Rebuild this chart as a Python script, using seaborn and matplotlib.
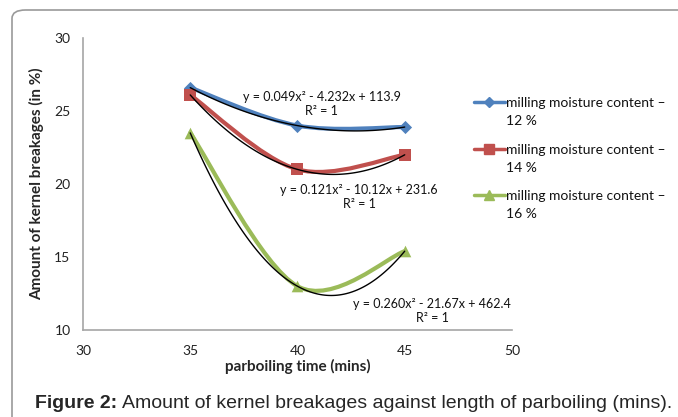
import numpy as np
import matplotlib
matplotlib.use("Agg")
import matplotlib.pyplot as plt
import seaborn as sns
from matplotlib.path import Path
from matplotlib.patches import PathPatch, FancyBboxPatch
from matplotlib.lines import Line2D

# data
time_mins = [35, 40, 45]
moist_12 = [26.6, 24.0, 23.9]
moist_14 = [26.1, 21.0, 22.0]
moist_16 = [23.5, 13.0, 15.4]
series_names = ["milling moisture content \u2013", "milling moisture content \u2013",
                "milling moisture content \u2013"]
series_pct = ["12 %", "14 %", "16 %"]
equations = ["y = 0.049x\u00b2 - 4.232x + 113.9\nR\u00b2 = 1",
             "y = 0.121x\u00b2 - 10.12x + 231.6\nR\u00b2 = 1",
             "y = 0.260x\u00b2 - 21.67x + 462.4\nR\u00b2 = 1"]

colors = ["#4F81BD", "#C0504D", "#9BBB59"]
markers = ["D", "s", "^"]
msizes = [45, 80, 70]

sns.set_style("white")
plt.rcParams["font.family"] = ["Lato", "DejaVu Sans"]


def smooth_path(xs, ys):
    # excel-like smoothed line: cubic bezier through the points
    pts = np.column_stack([xs, ys]).astype(float)
    n = len(pts)
    verts = [pts[0]]
    codes = [Path.MOVETO]
    for i in range(n - 1):
        p_prev = pts[max(i - 1, 0)]
        p0 = pts[i]
        p1 = pts[i + 1]
        p_next = pts[min(i + 2, n - 1)]
        c1 = p0 + (p1 - p_prev) / 6.0
        c2 = p1 - (p_next - p0) / 6.0
        verts += [c1, c2, p1]
        codes += [Path.CURVE4] * 3
    return Path(verts, codes)


fig = plt.figure(figsize=(6.78, 4.17), dpi=100)
ax = fig.add_axes([0.1224, 0.2086, 0.6327, 0.7003])

all_series = [moist_12, moist_14, moist_16]
for vals, c, m, s in zip(all_series, colors, markers, msizes):
    ax.add_patch(PathPatch(smooth_path(time_mins, vals), facecolor="none",
                           edgecolor=c, lw=3.0, zorder=2, capstyle="round"))
    sns.scatterplot(x=time_mins, y=vals, marker=m, s=s, color=c,
                    edgecolor=c, linewidth=0, ax=ax, zorder=3, legend=False)
    sns.regplot(x=np.array(time_mins), y=np.array(vals), order=2, ci=None,
                scatter=False, ax=ax, truncate=True,
                line_kws=dict(color="black", lw=1.0, zorder=4))

ax.set_xlim(30, 50)
ax.set_ylim(10, 30)
ax.set_xticks([30, 35, 40, 45, 50])
ax.set_yticks([10, 15, 20, 25, 30])
for side in ["top", "right"]:
    ax.spines[side].set_visible(False)
for side in ["left", "bottom"]:
    ax.spines[side].set_color("#A6A6A6")
    ax.spines[side].set_linewidth(1.2)
ax.tick_params(axis="both", direction="out", length=4, width=1.0,
               color="#A6A6A6", labelsize=10, labelcolor="#222222", pad=7)
ax.tick_params(axis="y", pad=5)
ax.set_xlabel("parboiling time (mins)", fontsize=11, fontweight="bold",
              labelpad=1)
ax.set_ylabel("Amount of kernel breakages (in %)", fontsize=11,
              fontweight="bold", labelpad=7)

# equation labels
eq_pos = [(41.14, 25.45), (42.87, 19.1), (46.27, 11.3)]
for txt, (ex, ey) in zip(equations, eq_pos):
    ax.text(ex, ey, txt, ha="center", va="center", fontsize=9,
            linespacing=1.2, color="#111111", zorder=5)

handles = [Line2D([0], [0], color=c, lw=2.5, marker=m, markersize=ms)
           for c, m, ms in zip(colors, markers, [5, 7, 7])]
leg = fig.legend(handles, series_names, loc="upper left",
                 bbox_to_anchor=(0.691, 0.781), frameon=False, fontsize=10,
                 handlelength=2.2, handletextpad=0.1, labelspacing=2.5,
                 borderaxespad=0)
for t in leg.get_texts():
    t.set_color("#111111")

fig.canvas.draw()
for t, pct in zip(leg.get_texts(), series_pct):
    bb = t.get_window_extent()
    fig.text(bb.x0 / fig.bbox.width, (bb.y0 + bb.y1) / 2 / fig.bbox.height - 18 / 417,
             pct, fontsize=10, color="#111111", va="center", ha="left")

# outer border and caption
fig.patches.append(FancyBboxPatch((12 / 678, -0.2), 1.2, 1.2 - 10 / 417,
                                  boxstyle="round,pad=0,rounding_size=0.02",
                                  transform=fig.transFigure, facecolor="none",
                                  edgecolor="#9A9A9A", lw=1.2))
cap = fig.text(0.052, 0.022, "Figure 2:", fontsize=14, fontweight="bold",
               family=["Liberation Sans", "DejaVu Sans"], va="baseline")
fig.canvas.draw()
bb = cap.get_window_extent()
x_after = bb.x1 / fig.bbox.width
fig.text(x_after + 0.007, 0.022,
         "Amount of kernel breakages against length of parboiling (mins).",
         fontsize=14, family=["Liberation Sans", "DejaVu Sans"],
         va="baseline")

fig.savefig("out.png", dpi=100)
